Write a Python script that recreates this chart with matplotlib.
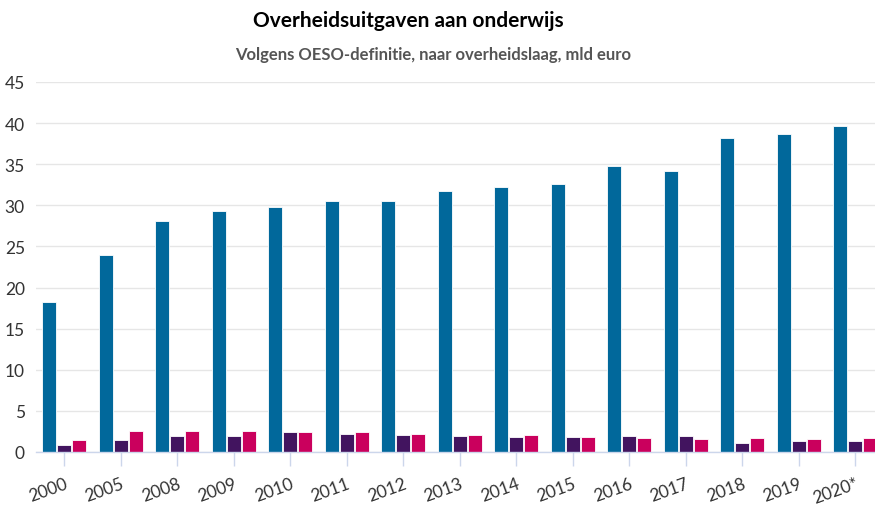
import matplotlib.pyplot as plt
import numpy as np

plt.rcParams['font.family'] = ['Lato', 'DejaVu Sans']

years = ['2000', '2005', '2008', '2009', '2010', '2011', '2012', '2013',
         '2014', '2015', '2016', '2017', '2018', '2019', '2020*']
rijk = [18.2, 24.0, 28.1, 29.3, 29.8, 30.5, 30.5, 31.8, 32.2, 32.6,
        34.8, 34.2, 38.2, 38.7, 39.7]
provincies = [0.9, 1.4, 1.9, 2.0, 2.4, 2.2, 2.1, 1.95, 1.8, 1.8,
              1.9, 2.0, 1.15, 1.3, 1.3]
gemeenten = [1.45, 2.6, 2.5, 2.5, 2.4, 2.4, 2.25, 2.1, 2.1, 1.8,
             1.75, 1.6, 1.75, 1.6, 1.75]

fig = plt.figure(figsize=(8.75, 5.06), dpi=100)
ax = fig.add_axes([36 / 875, 53 / 506, 847.5 / 875, 370 / 506])

x = np.arange(len(years))
w = 0.25
off = 0.265
ax.bar(x - off, rijk, w, color='#01689b', edgecolor='#ffffff', linewidth=0.6, zorder=3)
ax.bar(x, provincies, w, color='#42145f', edgecolor='#ffffff', linewidth=0.6, zorder=3)
ax.bar(x + off, gemeenten, w, color='#ca005d', edgecolor='#ffffff', linewidth=0.6, zorder=3)

ax.set_xlim(-0.5, len(years) - 0.5)
ax.set_ylim(0, 45)
ax.set_yticks(range(0, 46, 5))
ax.yaxis.grid(True, color='#e6e6e6', linewidth=1, zorder=0)
ax.tick_params(axis='y', length=0, labelsize=12.5, labelcolor='#333333', pad=8)

ax.set_xticks(x)
ax.set_xticklabels(years, rotation=20, ha='right', rotation_mode='anchor')
ax.tick_params(axis='x', length=10, width=1, color='#ccd6eb',
               labelsize=12.5, labelcolor='#333333', pad=6.5)

for s in ['top', 'right', 'left']:
    ax.spines[s].set_visible(False)
ax.spines['bottom'].set_color('#ccd6eb')
ax.spines['bottom'].set_linewidth(1)
ax.spines['bottom'].set_zorder(4)

fig.text(408 / 875, 1 - 21 / 506, 'Overheidsuitgaven aan onderwijs',
         ha='center', va='center', fontsize=15, fontweight='bold', color='#000000')
fig.text(433 / 875, 1 - 55 / 506, 'Volgens OESO-definitie, naar overheidslaag, mld euro',
         ha='center', va='center', fontsize=12, fontweight='bold', color='#555555')

fig.savefig('out.png', dpi=100)
